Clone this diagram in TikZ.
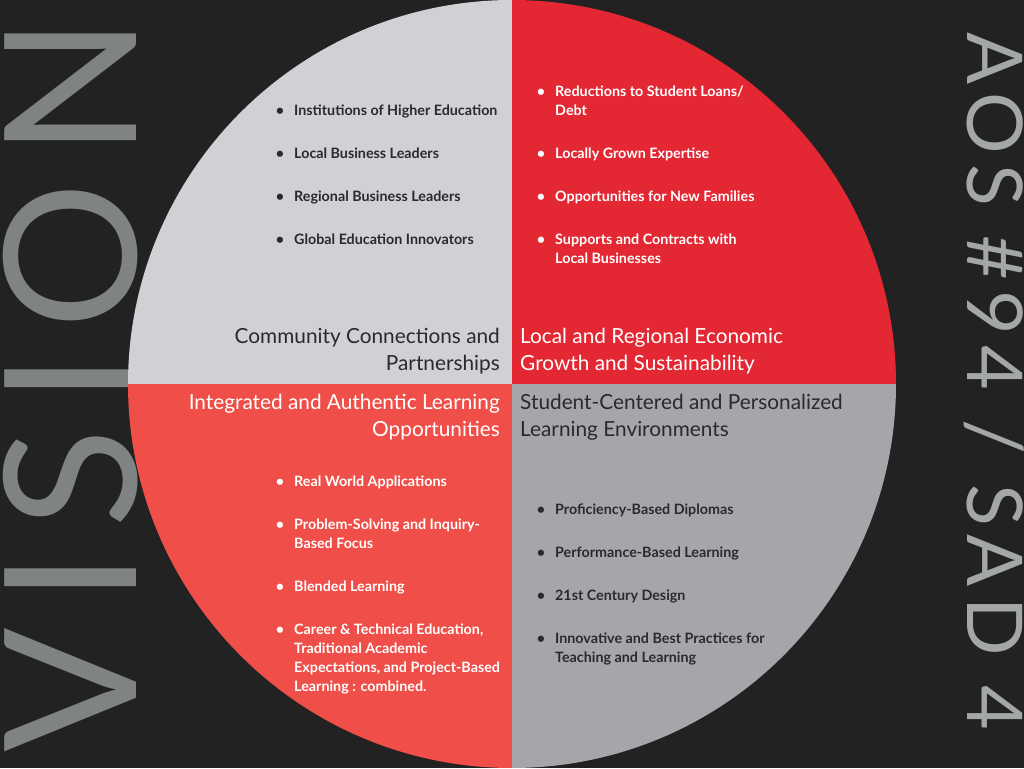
\documentclass[tikz,border=0pt]{standalone}
\usepackage{fontspec}
\setmainfont{Lato}
\usepackage{xcolor}
\usepackage{tikz}
\usetikzlibrary{positioning}

\definecolor{bgdark}{HTML}{222222}
\definecolor{quadtl}{HTML}{D0D1D5}
\definecolor{quadtr}{HTML}{E32733}
\definecolor{quadbl}{HTML}{EF4F48}
\definecolor{quadbr}{HTML}{A4A6AA}
\definecolor{textdark}{HTML}{2A2A2A}
\definecolor{visiongray}{HTML}{7F8384}
\definecolor{aosgray}{HTML}{A3A7A7}

\newcommand{\itemdot}{\llap{\textbullet\hspace{10pt}}}

\begin{document}
\begin{tikzpicture}[x=1pt, y=-1pt,
    heading/.style={inner sep=0pt, font=\fontsize{20.8}{27}\selectfont},
    entry/.style={inner sep=0pt, anchor=north west, align=left,
      font=\bfseries\fontsize{14.3}{19}\selectfont},
    sidetext/.style={inner sep=0pt, anchor=base}
]
\useasboundingbox (0,0) rectangle (1024,768);
\fill[bgdark] (0,0) rectangle (1024,768);

% side titles
\node[sidetext, rotate=90, text=visiongray,
  font=\fontsize{184}{184}\selectfont\addfontfeatures{LetterSpace=13}] (vision) at (136,385) {VISION};
\node[sidetext, rotate=-90, text=aosgray,
  font=\fontsize{77}{77}\selectfont\addfontfeatures{LetterSpace=13}] (aos) at (967,381) {AOS \#94 / SAD 4};

% the four quarters
\begin{scope}
\clip (512,384) circle (384pt);
\fill[quadtl] (128,0) rectangle (512,384);
\fill[quadtr] (512,0) rectangle (896,384);
\fill[quadbl] (128,384) rectangle (512,768);
\fill[quadbr] (512,384) rectangle (896,768);
\end{scope}

% headings
\node[heading, anchor=north east, align=right, text=textdark] (hcomm) at (500,328)
  {Community Connections and\\Partnerships};
\node[heading, anchor=north west, align=left, text=white] (hecon) at (520,328)
  {Local and Regional Economic\\Growth and Sustainability};
\node[heading, anchor=north east, align=right, text=white] (hlearn) at (500,394)
  {Integrated and Authentic Learning\\Opportunities};
\node[heading, anchor=north west, align=left, text=textdark] (hstud) at (520,394)
  {Student-Centered and Personalized\\Learning Environments};

% top left
\node[entry, text=textdark] (c1) at (294,105) {\itemdot Institutions of Higher Education};
\node[entry, text=textdark] (c2) at (294,148) {\itemdot Local Business Leaders};
\node[entry, text=textdark] (c3) at (294,191) {\itemdot Regional Business Leaders};
\node[entry, text=textdark] (c4) at (294,234) {\itemdot Global Education Innovators};

% top right
\node[entry, text=white] (e1) at (555,86) {\itemdot Reductions to Student Loans/\\Debt};
\node[entry, text=white] (e2) at (555,148) {\itemdot Locally Grown Expertise};
\node[entry, text=white] (e3) at (555,191) {\itemdot Opportunities for New Families};
\node[entry, text=white] (e4) at (555,234) {\itemdot Supports and Contracts with\\Local Businesses};

% bottom left
\node[entry, text=white] (l1) at (294,476) {\itemdot Real World Applications};
\node[entry, text=white] (l2) at (294,519) {\itemdot Problem-Solving and Inquiry-\\Based Focus};
\node[entry, text=white] (l3) at (294,581) {\itemdot Blended Learning};
\node[entry, text=white] (l4) at (294,624) {\itemdot Career \& Technical Education,\\Traditional Academic\\Expectations, and Project-Based\\Learning : combined.};

% bottom right
\node[entry, text=textdark] (s1) at (555,504) {\itemdot Proficiency-Based Diplomas};
\node[entry, text=textdark] (s2) at (555,547) {\itemdot Performance-Based Learning};
\node[entry, text=textdark] (s3) at (555,590) {\itemdot 21st Century Design};
\node[entry, text=textdark] (s4) at (555,633) {\itemdot Innovative and Best Practices for\\Teaching and Learning};
\end{tikzpicture}
\end{document}
